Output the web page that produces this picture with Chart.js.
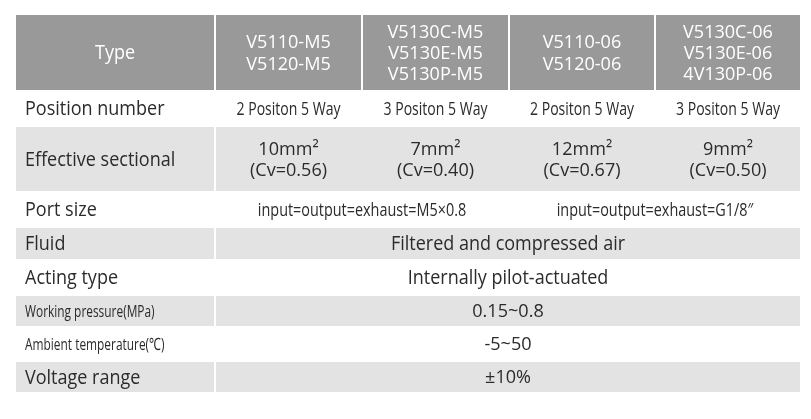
<!DOCTYPE html>
<html><head><meta charset="utf-8">
<script src="https://cdn.jsdelivr.net/npm/chart.js@4"></script>
<style>html,body{margin:0;padding:0;background:#fff}#w{width:811px;height:419px}</style>
</head><body><div id="w"><canvas id="c"></canvas></div>
<script>
const headerLabel = "Type";
const types = [["V5110-M5","V5120-M5"],["V5130C-M5","V5130E-M5","V5130P-M5"],["V5110-06","V5120-06"],["V5130C-06","V5130E-06","4V130P-06"]];
const categories = ["Position number","Effective sectional","Port size","Fluid","Acting type","Working pressure(MPa)","Ambient temperature(℃)","Voltage range"];
const positionNumber = ["2 Positon 5 Way","3 Positon 5 Way","2 Positon 5 Way","3 Positon 5 Way"];
const effectiveArea = ["10mm²","7mm²","12mm²","9mm²"];
const cvValues = ["(Cv=0.56)","(Cv=0.40)","(Cv=0.67)","(Cv=0.50)"];
const portSize = ["input=output=exhaust=M5×0.8","input=output=exhaust=G1/8″"];
const fluid = "Filtered and compressed air";
const actingType = "Internally pilot-actuated";
const workingPressure = "0.15~0.8";
const ambientTemp = "-5~50";
const voltageRange = "±10%";

// layout (table coordinates)
const colEdges = [15,215,362,509,655,801];
const rowEdges = [14,91,126,192,227,260,295,327,361,393];
const HEAD = "#999999", SHADE = "#e3e3e3", TXT = "#2b2b2b";

const rows = [
  {cells: positionNumber.map((t,i)=>({a:i+1,b:i+2,lines:[t],size:18,sx:0.78}))},
  {cells: effectiveArea.map((t,i)=>({a:i+1,b:i+2,lines:[t,cvValues[i]],size:19,sx:0.95}))},
  {cells: [{a:1,b:3,lines:[portSize[0]],size:18,sx:0.8},{a:3,b:5,lines:[portSize[1]],size:18,sx:0.8}]},
  {cells: [{a:1,b:5,lines:[fluid],size:20,sx:0.9}]},
  {cells: [{a:1,b:5,lines:[actingType],size:20,sx:0.9}]},
  {cells: [{a:1,b:5,lines:[workingPressure],size:19,sx:0.95}]},
  {cells: [{a:1,b:5,lines:[ambientTemp],size:19,sx:0.95}]},
  {cells: [{a:1,b:5,lines:[voltageRange],size:19,sx:0.95}]}
];
const labelSizes = [20,20,20,20,20,17,17,20];
const labelScale = [0.9,0.9,0.9,0.9,0.9,0.7,0.7,0.9];

const tablePlugin = {
  id:'table',
  afterDraw(chart){
    const ctx = chart.ctx, xs = chart.scales.x, ys = chart.scales.y;
    const X = v=>xs.getPixelForValue(v), Y = v=>ys.getPixelForValue(v);
    function cell(x0,x1,y0,y1,fill){ if(!fill) return; ctx.fillStyle=fill; ctx.fillRect(X(x0)+1,Y(y0)+1,X(x1)-X(x0)-2,Y(y1)-Y(y0)-2); }
    function text(lines,x,y0,y1,size,sx,color,align){
      ctx.save();
      ctx.fillStyle=color; ctx.font=`${size}px "Open Sans","Noto Sans",sans-serif`; ctx.textAlign=align; ctx.textBaseline='middle';
      const lh=size*1.12, mid=(Y(y0)+Y(y1))/2+1, start=mid-lh*(lines.length-1)/2;
      ctx.translate(x,0); ctx.scale(sx,1);
      lines.forEach((l,i)=>ctx.fillText(l,0,start+i*lh));
      ctx.restore();
    }
    for(let c=0;c<5;c++) cell(colEdges[c],colEdges[c+1],rowEdges[0],rowEdges[1],HEAD);
    text([headerLabel],(X(colEdges[0])+X(colEdges[1]))/2,rowEdges[0],rowEdges[1],20,0.9,"#fff","center");
    types.forEach((t,i)=>text(t,(X(colEdges[i+1])+X(colEdges[i+2]))/2,rowEdges[0],rowEdges[1],19,0.95,"#fff","center"));
    rows.forEach((r,ri)=>{
      const y0=rowEdges[ri+1], y1=rowEdges[ri+2], shade = ri%2===1 ? SHADE : null;
      cell(colEdges[0],colEdges[1],y0,y1,shade);
      cell(colEdges[1],colEdges[5],y0,y1,shade);
      text([categories[ri]],X(colEdges[0])+10,y0,y1,labelSizes[ri],labelScale[ri],TXT,"left");
      r.cells.forEach(c=>text(c.lines,(X(colEdges[c.a])+X(colEdges[c.b]))/2,y0,y1,c.size,c.sx,TXT,"center"));
    });
  }
};

new Chart(document.getElementById('c'),{
  type:'scatter',
  data:{datasets:[{data:[]}]},
  options:{responsive:true,maintainAspectRatio:false,animation:false,
    layout:{padding:0},
    plugins:{legend:{display:false},tooltip:{enabled:false}},
    scales:{x:{type:'linear',min:0,max:811,display:false},y:{type:'linear',min:0,max:419,reverse:true,display:false}}},
  plugins:[tablePlugin]
});
</script></body></html>
